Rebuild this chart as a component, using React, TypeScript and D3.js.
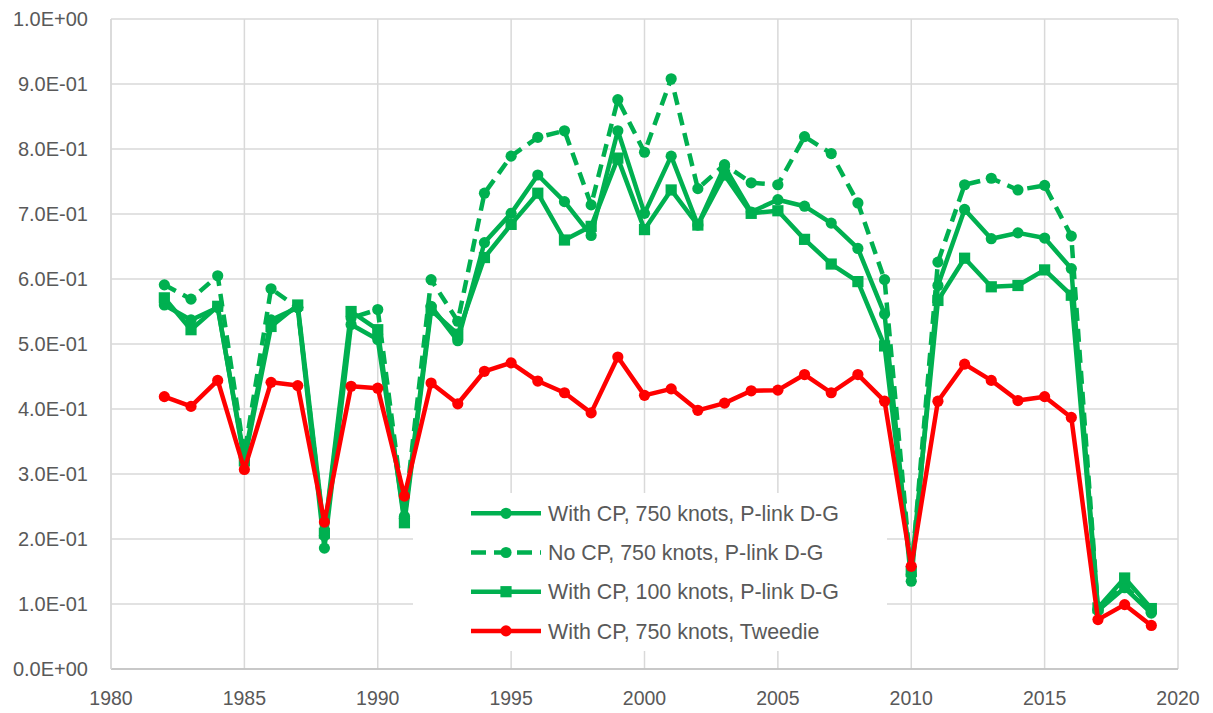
import React from "react";
import * as d3 from "d3";

const years: number[] = d3.range(1982, 2020);

const withCP750: number[] = [
  0.560, 0.537, 0.556, 0.325, 0.537, 0.556, 0.186, 0.530, 0.507, 0.232,
  0.558, 0.505, 0.656, 0.701, 0.760, 0.719, 0.667, 0.828, 0.701, 0.789,
  0.683, 0.773, 0.703, 0.722, 0.712, 0.686, 0.647, 0.546, 0.135, 0.590,
  0.707, 0.662, 0.671, 0.663, 0.616, 0.090, 0.125, 0.086,
];
const noCP750: number[] = [
  0.591, 0.569, 0.605, 0.330, 0.585, 0.556, 0.205, 0.540, 0.553, 0.235,
  0.599, 0.535, 0.732, 0.789, 0.818, 0.828, 0.714, 0.876, 0.795, 0.908,
  0.739, 0.776, 0.748, 0.745, 0.819, 0.793, 0.717, 0.599, 0.145, 0.626,
  0.745, 0.755, 0.737, 0.744, 0.666, 0.092, 0.128, 0.088,
];
const withCP100: number[] = [
  0.571, 0.522, 0.558, 0.320, 0.527, 0.560, 0.209, 0.550, 0.522, 0.225,
  0.552, 0.515, 0.633, 0.684, 0.732, 0.660, 0.681, 0.786, 0.676, 0.737,
  0.683, 0.760, 0.701, 0.705, 0.661, 0.623, 0.596, 0.497, 0.150, 0.567,
  0.632, 0.588, 0.590, 0.614, 0.575, 0.094, 0.140, 0.093,
];
const tweedie: number[] = [
  0.419, 0.404, 0.444, 0.307, 0.441, 0.436, 0.226, 0.435, 0.432, 0.266,
  0.440, 0.408, 0.458, 0.471, 0.443, 0.425, 0.394, 0.480, 0.421, 0.431,
  0.398, 0.409, 0.428, 0.429, 0.453, 0.425, 0.453, 0.412, 0.158, 0.412,
  0.469, 0.444, 0.413, 0.419, 0.387, 0.076, 0.099, 0.067,
];

const xTicks: number[] = [1980, 1985, 1990, 1995, 2000, 2005, 2010, 2015, 2020];
const yTicks: number[] = [0, 0.1, 0.2, 0.3, 0.4, 0.5, 0.6, 0.7, 0.8, 0.9, 1.0];
const yTickLabels: string[] = [
  "0.0E+00", "1.0E-01", "2.0E-01", "3.0E-01", "4.0E-01", "5.0E-01",
  "6.0E-01", "7.0E-01", "8.0E-01", "9.0E-01", "1.0E+00",
];

const seriesNames: string[] = [
  "With CP, 750 knots, P-link D-G",
  "No CP, 750 knots, P-link D-G",
  "With CP, 100 knots, P-link D-G",
  "With CP, 750 knots, Tweedie",
];

const GREEN = "#00B050";
const RED = "#FF0000";

type Series = {
  name: string;
  values: number[];
  color: string;
  dash?: string;
  marker: "circle" | "square";
};

const series: Series[] = [
  { name: seriesNames[0], values: withCP750, color: GREEN, marker: "circle" },
  { name: seriesNames[1], values: noCP750, color: GREEN, dash: "13,8", marker: "circle" },
  { name: seriesNames[2], values: withCP100, color: GREEN, marker: "square" },
  { name: seriesNames[3], values: tweedie, color: RED, marker: "circle" },
];

const W = 1213;
const H = 713;
const L = 111;
const R = 1178;
const T = 19;
const B = 669;

export default function App() {
  const x = d3.scaleLinear().domain([1980, 2020]).range([L, R]);
  const y = d3.scaleLinear().domain([0, 1]).range([B, T]);
  const font = "'Liberation Sans', Arial, sans-serif";

  const Marker = ({ cx, cy, s }: { cx: number; cy: number; s: Series }) =>
    s.marker === "circle" ? (
      <circle cx={cx} cy={cy} r={5.6} fill={s.color} />
    ) : (
      <rect x={cx - 5.6} y={cy - 5.6} width={11.2} height={11.2} fill={s.color} />
    );

  const legX = 413;
  const legY = 493;
  const legW = 474;
  const legH = 158;

  return (
    <svg
      width={W}
      height={H}
      style={{ position: "absolute", left: 0, top: 0, background: "#fff" }}
      fontFamily={font}
    >
      <rect x={0} y={0} width={W} height={H} fill="#fff" />
      {/* gridlines */}
      {yTicks.map((t) => (
        <line key={"gy" + t} x1={L} x2={R} y1={y(t)} y2={y(t)} stroke="#D9D9D9" strokeWidth={1.5} />
      ))}
      {xTicks.map((t) => (
        <line key={"gx" + t} x1={x(t)} x2={x(t)} y1={T} y2={B} stroke="#D9D9D9" strokeWidth={1.5} />
      ))}
      <line x1={L} x2={R} y1={B} y2={B} stroke="#BFBFBF" strokeWidth={1.5} />
      <line x1={L} x2={L} y1={T} y2={B} stroke="#D9D9D9" strokeWidth={1.5} />

      {/* y tick labels */}
      {yTicks.map((t, i) => (
        <text
          key={"yl" + t}
          x={88}
          y={y(t)}
          dy="0.35em"
          textAnchor="end"
          fontSize={20}
          fill="#595959"
        >
          {yTickLabels[i]}
        </text>
      ))}
      {/* x tick labels */}
      {xTicks.map((t) => (
        <text key={"xl" + t} x={x(t)} y={705} textAnchor="middle" fontSize={19.5} fill="#595959">
          {t}
        </text>
      ))}

      {/* series */}
      {series.map((s) => {
        const line = d3
          .line<number>()
          .x((_, i) => x(years[i]))
          .y((v) => y(v));
        return (
          <g key={s.name}>
            <path
              d={line(s.values) || ""}
              fill="none"
              stroke={s.color}
              strokeWidth={4.5}
              strokeDasharray={s.dash}
              strokeLinejoin="round"
              strokeLinecap={s.dash ? "butt" : "round"}
            />
            {s.values.map((v, i) => (
              <Marker key={i} cx={x(years[i])} cy={y(v)} s={s} />
            ))}
          </g>
        );
      })}

      {/* legend */}
      <rect x={legX} y={legY} width={legW} height={legH} fill="#fff" />
      {series.map((s, i) => {
        const cy = 513.3 + i * 39.2;
        return (
          <g key={"leg" + i}>
            <line
              x1={471}
              x2={541}
              y1={cy}
              y2={cy}
              stroke={s.color}
              strokeWidth={4.5}
              strokeDasharray={s.dash ? "15,8" : undefined}
            />
            <Marker cx={506} cy={cy} s={s} />
            <text x={548} y={cy} dy="0.36em" fontSize={21.4} fill="#595959">
              {s.name}
            </text>
          </g>
        );
      })}
    </svg>
  );
}
